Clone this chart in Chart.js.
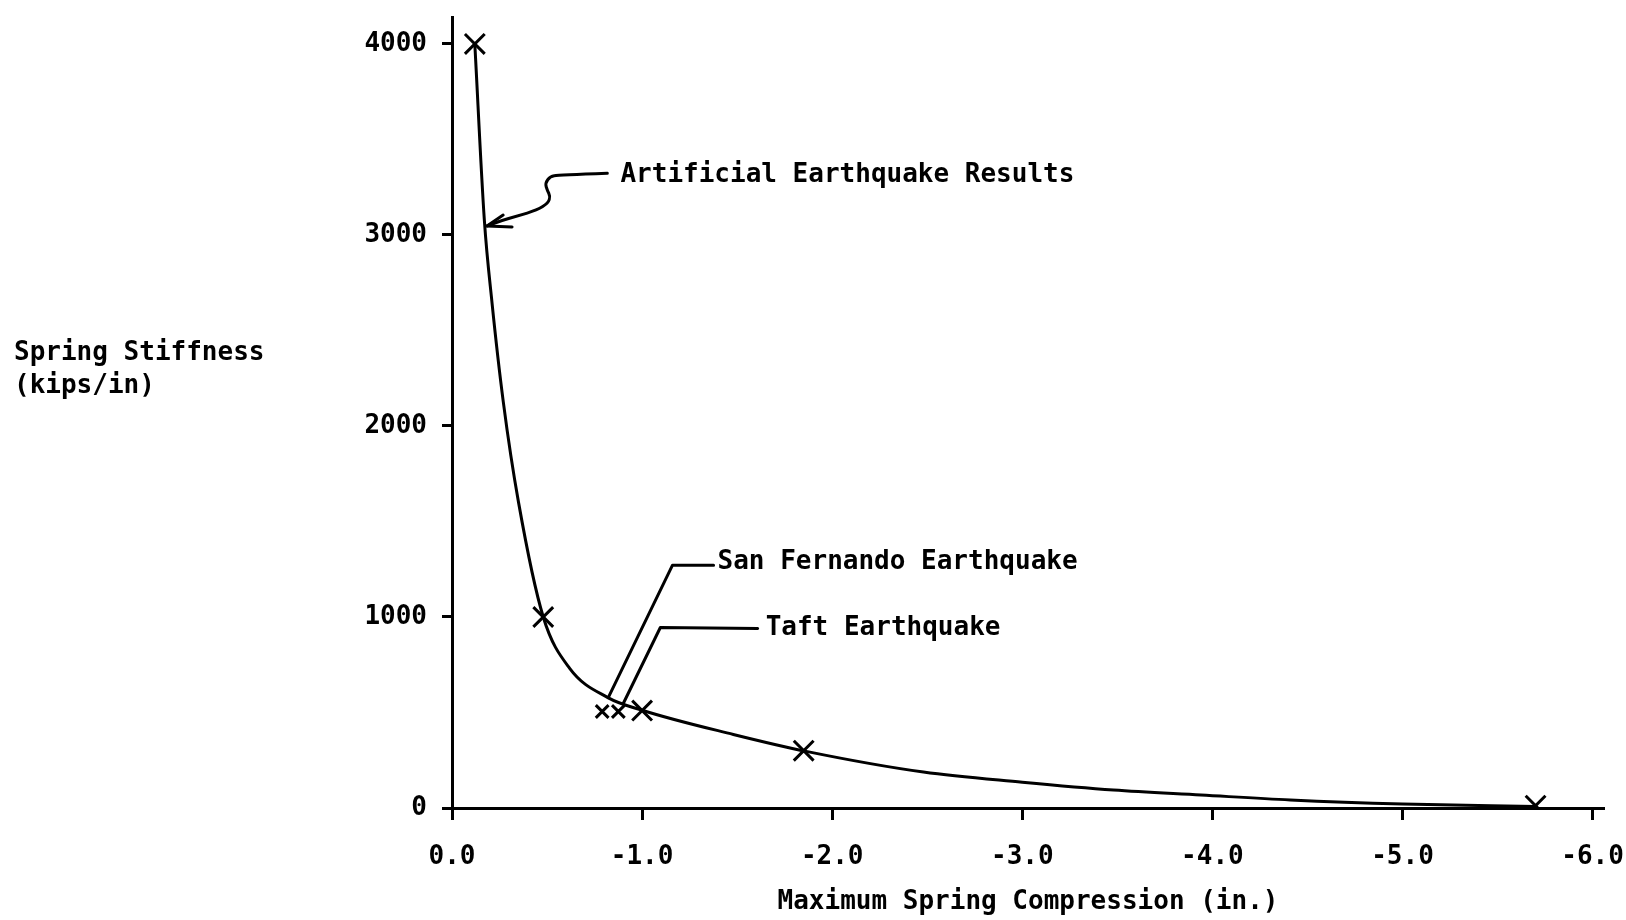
<!DOCTYPE html>
<html>
<head>
<meta charset="utf-8">
<script src="https://cdn.jsdelivr.net/npm/chart.js@4/dist/chart.umd.min.js"></script>
<style>
  body { margin: 0; background: #fff; }
  #wrap { width: 1626px; height: 920px; }
</style>
</head>
<body>
<div id="wrap"><canvas id="stiffnessChart" width="1626" height="920"></canvas></div>
<script>
// values (x = max spring compression in inches, y = stiffness kips/in)
var xTicks = [0, -1, -2, -3, -4, -5, -6];
var yTicks = [0, 1000, 2000, 3000, 4000];

// fitted curve through the results
var curveX = [-0.12, -0.17, -0.21, -0.27, -0.35, -0.48, -0.62, -0.82, -1.0, -1.48, -1.87, -2.48, -3.0, -3.48, -3.94, -4.41, -5.0, -5.70];
var curveY = [4000, 3080, 2650, 2125, 1600, 1000, 730, 578, 512, 385, 295, 188, 135, 94, 68, 42, 21, 8];

// artificial earthquake results (big X marks)
var artificialX = [-0.12, -0.48, -1.0, -1.85, -5.70];
var artificialY = [4000, 1000, 510, 300, 12];

// recorded earthquakes (small x marks)
var sanFernandoX = [-0.79];
var sanFernandoY = [505];
var taftX = [-0.875];
var taftY = [505];

function toPoints(xs, ys) {
  var pts = [];
  for (var i = 0; i < xs.length; i++) {
    pts.push({x: xs[i], y: ys[i]});
  }
  return pts;
}

var FONT = '"DejaVu Sans Mono", monospace';

// labels and leader lines, placed in data units
var notes = [
  {text: "Artificial Earthquake Results", x: -0.886, y: 3313},
  {text: "San Fernando Earthquake", x: -1.397, y: 1286},
  {text: "Taft Earthquake", x: -1.65, y: 940}
];
var leaders = [
  [[-1.376, 1271], [-1.160, 1271], [-0.822, 578]],
  [[-1.608, 940], [-1.096, 945], [-0.901, 547]]
];
var squiggle = [[-0.817, 3323], [-0.559, 3313], [-0.517, 3307], [-0.490, 3271], [-0.501, 3234],
  [-0.517, 3203], [-0.506, 3167], [-0.448, 3130], [-0.343, 3099], [-0.253, 3073], [-0.184, 3047]];
var arrowHead = [[-0.269, 3104], [-0.184, 3047], [-0.316, 3042]];

var notesPlugin = {
  id: 'notes',
  afterDatasetsDraw: function(chart) {
    var ctx = chart.ctx;
    var sx = chart.scales.x, sy = chart.scales.y;
    function px(p) { return [sx.getPixelForValue(p[0]), sy.getPixelForValue(p[1])]; }

    ctx.save();
    ctx.strokeStyle = '#000';
    ctx.fillStyle = '#000';
    ctx.lineWidth = 3;
    ctx.lineJoin = 'round';
    ctx.lineCap = 'round';

    // leader lines
    leaders.forEach(function(line) {
      ctx.beginPath();
      line.forEach(function(p, i) {
        var q = px(p);
        if (i == 0) ctx.moveTo(q[0], q[1]); else ctx.lineTo(q[0], q[1]);
      });
      ctx.stroke();
    });

    // wavy arrow to the curve
    var pts = squiggle.map(px);
    ctx.beginPath();
    ctx.moveTo(pts[0][0], pts[0][1]);
    for (var i = 1; i < pts.length - 1; i++) {
      var mx = (pts[i][0] + pts[i + 1][0]) / 2;
      var my = (pts[i][1] + pts[i + 1][1]) / 2;
      ctx.quadraticCurveTo(pts[i][0], pts[i][1], mx, my);
    }
    ctx.lineTo(pts[pts.length - 1][0], pts[pts.length - 1][1]);
    ctx.stroke();

    ctx.beginPath();
    arrowHead.forEach(function(p, i) {
      var q = px(p);
      if (i == 0) ctx.moveTo(q[0], q[1]); else ctx.lineTo(q[0], q[1]);
    });
    ctx.stroke();

    // text
    ctx.font = 'bold 26px ' + FONT;
    ctx.textBaseline = 'middle';
    ctx.textAlign = 'left';
    notes.forEach(function(n) {
      var q = px([n.x, n.y]);
      ctx.fillText(n.text, q[0], q[1]);
    });

    // y axis title sits left of the ticks, not rotated
    ctx.fillText("Spring Stiffness", 14, 353);
    ctx.fillText("(kips/in)", 14, 386);
    ctx.restore();
  }
};

var ctx = document.getElementById("stiffnessChart").getContext('2d');

var stiffnessChart = new Chart(ctx, {
  type: 'scatter',
  data: {
    datasets: [{
      label: "Curve",
      data: toPoints(curveX, curveY),
      showLine: true,
      borderColor: "#000",
      borderWidth: 3,
      pointRadius: 0,
      cubicInterpolationMode: 'monotone',
      fill: false
    }, {
      label: "Artificial Earthquake Results",
      data: toPoints(artificialX, artificialY),
      pointStyle: 'crossRot',
      pointRadius: 14,
      borderColor: "#000",
      pointBorderWidth: 3
    }, {
      label: "San Fernando Earthquake",
      data: toPoints(sanFernandoX, sanFernandoY),
      pointStyle: 'crossRot',
      pointRadius: 9,
      borderColor: "#000",
      pointBorderWidth: 3
    }, {
      label: "Taft Earthquake",
      data: toPoints(taftX, taftY),
      pointStyle: 'crossRot',
      pointRadius: 9,
      borderColor: "#000",
      pointBorderWidth: 3
    }]
  },
  options: {
    responsive: false,
    animation: false,
    layout: { padding: { left: 0, top: 13, right: 22, bottom: 0 } },
    plugins: {
      legend: { display: false },
      tooltip: { enabled: false }
    },
    scales: {
      x: {
        type: 'linear',
        reverse: true,
        min: -6.06,
        max: 0,
        afterBuildTicks: function(scale) {
          scale.ticks = xTicks.map(function(v) { return {value: v}; });
        },
        afterFit: function(scale) {
          scale.height = 112;
          scale.paddingLeft = 0;
          scale.paddingRight = 0;
        },
        border: { display: true, color: '#000', width: 3 },
        grid: { drawOnChartArea: false, drawTicks: true, tickLength: 12, tickWidth: 3, tickColor: '#000' },
        ticks: {
          color: '#000',
          padding: 22,
          font: { family: FONT, size: 26, weight: 'bold' },
          callback: function(v) { return v.toFixed(1); }
        },
        title: {
          display: true,
          text: "Maximum Spring Compression (in.)",
          color: '#000',
          font: { family: FONT, size: 26, weight: 'bold' },
          padding: { top: 0, bottom: 2 }
        }
      },
      y: {
        type: 'linear',
        min: 0,
        max: 4141,
        afterBuildTicks: function(scale) {
          scale.ticks = yTicks.map(function(v) { return {value: v}; });
        },
        afterFit: function(scale) {
          scale.width = 452;
          scale.paddingTop = 0;
          scale.paddingBottom = 0;
        },
        border: { display: true, color: '#000', width: 3 },
        grid: { drawOnChartArea: false, drawTicks: true, tickLength: 10, tickWidth: 3, tickColor: '#000' },
        ticks: {
          color: '#000',
          padding: 15,
          font: { family: FONT, size: 26, weight: 'bold' },
          callback: function(v) { return String(v); }
        }
      }
    }
  },
  plugins: [notesPlugin]
});
</script>
</body>
</html>
